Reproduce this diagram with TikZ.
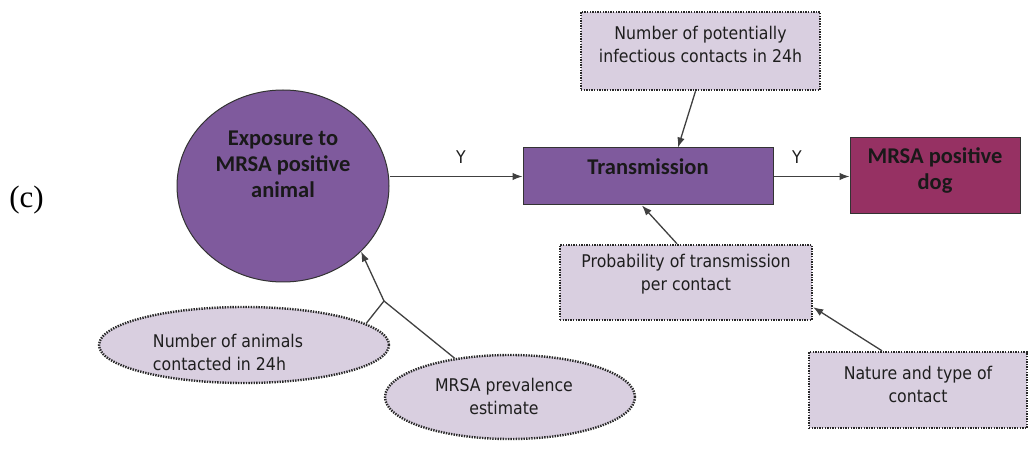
\documentclass[tikz,border=0pt]{standalone}
\usepackage{fontspec}
\usetikzlibrary{arrows.meta,shapes.geometric,calc}
\newfontfamily\smallfont{DejaVu Sans}[FakeStretch=0.9]
\newfontfamily\boldfont{Carlito}[BoldFont=Carlito Bold]
\newfontfamily\seriffont{Liberation Serif}
\definecolor{purp}{RGB}{127,90,157}
\definecolor{dogc}{RGB}{150,49,99}
\definecolor{lightp}{RGB}{217,207,224}
\definecolor{linec}{RGB}{64,64,64}
\definecolor{dotc}{RGB}{40,40,40}
\definecolor{txtc}{RGB}{30,30,30}
\begin{document}
\begin{tikzpicture}[x=1pt,y=-1pt,
  conn/.style={draw=linec, line width=1.3pt, -{Latex[length=10pt,width=7.5pt]}},
  plainline/.style={draw=linec, line width=1.3pt},
  dotbox/.style={draw=dotc, line width=2.4pt, dash pattern=on 1.4pt off 1.2pt, fill=lightp, rectangle, inner sep=0pt},
  dotell/.style={dotbox, ellipse},
  solidbox/.style={draw=black!80, line width=1pt, rectangle, inner sep=0pt},
  boldtxt/.style={font=\boldfont\bfseries\fontsize{22.5}{26}\selectfont, text=black!90, align=center, inner sep=0pt},
  smalltxt/.style={font=\smallfont\fontsize{17.5}{23}\selectfont, text=txtc, align=center, inner sep=0pt},
]
\useasboundingbox (0,0) rectangle (1029,449);

% (c) label
\node[font=\seriffont\fontsize{31}{36}\selectfont, inner sep=0pt] (lab) at (26.5,200) {(c)};

% main nodes
\node[solidbox, ellipse, fill=purp, minimum width=212pt, minimum height=192pt] (expo) at (283,186) {};
\node[boldtxt] (expot) at (283,164) {Exposure to\\MRSA positive\\animal};

\node[solidbox, fill=purp, minimum width=250pt, minimum height=57pt] (trans) at (648,176.5) {};
\node[boldtxt] (transt) at (648,167) {Transmission};

\node[solidbox, fill=dogc, minimum width=170pt, minimum height=76pt] (dog) at (935,176) {};
\node[boldtxt] (dogt) at (935,170.5) {MRSA positive\\dog};

% dotted nodes
\node[dotbox, minimum width=239pt, minimum height=78pt] (topbox) at (700.5,51) {};
\node[smalltxt] (topt) at (700.5,44) {Number of potentially\\infectious contacts in 24h};

\node[dotbox, minimum width=252pt, minimum height=75pt] (prob) at (686,282.5) {};
\node[smalltxt] (probt) at (686,274) {Probability of transmission\\per contact};

\node[dotbox, minimum width=218pt, minimum height=76pt] (nature) at (918,390) {};
\node[smalltxt] (naturet) at (918,384) {Nature and type of\\contact};

\node[dotell, minimum width=290pt, minimum height=76pt] (ell1) at (244,345) {};
\node[smalltxt, align=left] (ell1t) at (228,352) {Number of animals\\contacted in 24h};

\node[dotell, minimum width=250pt, minimum height=84pt] (ell2) at (510,397) {};
\node[smalltxt] (ell2t) at (504,396) {MRSA prevalence\\estimate};

% connectors
\draw[conn] (trans.west -| expo.east) -- (trans.west);
\node[smalltxt] (y1) at (461,157) {Y};
\draw[conn] (trans.east) -- (trans.east -| dog.west);
\node[smalltxt] (y2) at (797,157) {Y};

\draw[conn] ([xshift=-5pt]topbox.south) -- ([xshift=30pt]trans.north);
\draw[conn] ([xshift=-9pt]prob.north) -- ([xshift=-6pt]trans.south);
\draw[conn] ([xshift=-36pt]nature.north) -- ([yshift=14pt]prob.south east);

\coordinate (J) at (384,301);
\draw[plainline] (ell1.10) -- (J) -- (ell2.145);
\draw[conn] (J) -- (expo.-40);
\end{tikzpicture}
\end{document}
